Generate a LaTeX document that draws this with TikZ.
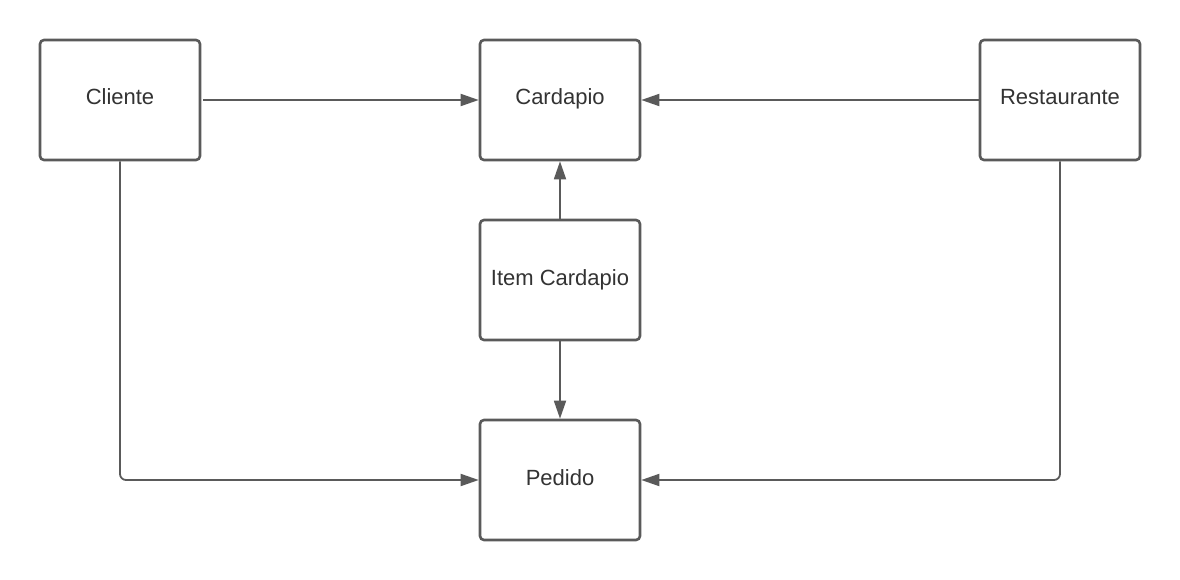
\documentclass[tikz,border=0pt]{standalone}
\usepackage{fontspec}
\setmainfont{Liberation Sans}
\usetikzlibrary{arrows.meta}
\definecolor{ln}{HTML}{5A5A5A}
\definecolor{tx}{HTML}{333333}
\begin{document}
\begin{tikzpicture}[x=1pt,y=-1pt,
  box/.style={draw=ln,line width=2.6pt,rounded corners=4pt,minimum width=160pt,minimum height=120pt,inner sep=0pt,text height=16pt,text depth=6pt,font=\fontsize{22}{26}\selectfont,text=tx,fill=white},
  conn/.style={draw=ln,line width=1.8pt,-{Triangle[length=18pt,width=12pt]},rounded corners=6pt}]
\useasboundingbox (0,0) rectangle (1180,580);
\node[box] (cli) at (120,100) {Cliente};
\node[box] (car) at (560,100) {Cardapio};
\node[box] (res) at (1060,100) {Restaurante};
\node[box] (ite) at (560,280) {Item Cardapio};
\node[box] (ped) at (560,480) {Pedido};
\draw[conn,shorten <=2pt] (cli.east) -- (car.west);
\draw[conn] (res.west) -- (car.east);
\draw[conn] (ite.north) -- (car.south);
\draw[conn] (ite.south) -- (ped.north);
\draw[conn] (cli.south) |- (ped.west);
\draw[conn] (res.south) |- (ped.east);
\end{tikzpicture}
\end{document}
